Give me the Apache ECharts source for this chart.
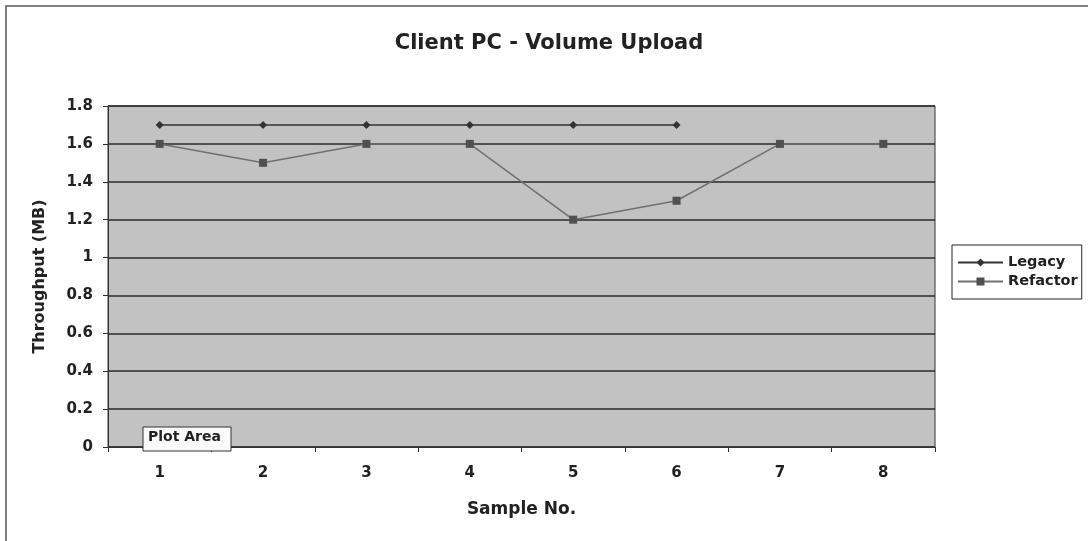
<!DOCTYPE html>
<html>
<head>
<meta charset="utf-8">
<script src="https://cdn.jsdelivr.net/npm/echarts@6/dist/echarts.min.js"></script>
<style>html,body{margin:0;padding:0;background:#fff}#c{width:1088px;height:541px}</style>
</head>
<body>
<div id="c"></div>
<script>
var categories = ['1','2','3','4','5','6','7','8'];
var legacy = [1.7, 1.7, 1.7, 1.7, 1.7, 1.7, null, null];
var refactor = [1.6, 1.5, 1.6, 1.6, 1.2, 1.3, 1.6, 1.6];
var yTicks = ['0','0.2','0.4','0.6','0.8','1','1.2','1.4','1.6','1.8'];

var FONT = '"DejaVu Sans", sans-serif';
var chart = echarts.init(document.getElementById('c'));
chart.setOption({
  animation: false,
  backgroundColor: '#ffffff',
  title: {
    text: 'Client PC - Volume Upload',
    left: 544, top: 28, textAlign: 'center',
    textStyle: { fontFamily: FONT, fontWeight: 'bold', fontSize: 21, color: '#222' }
  },
  grid: {
    left: 108, right: 153, top: 106, bottom: 94,
    show: true, backgroundColor: '#c2c2c2', borderColor: '#333', borderWidth: 1
  },
  legend: {
    orient: 'vertical', left: 952, top: 245,
    data: ['Legacy', 'Refactor'],
    borderColor: '#222', borderWidth: 1, padding: [10, 4, 10, 5],
    itemGap: 4, itemWidth: 45, itemHeight: 10,
    textStyle: { fontFamily: FONT, fontWeight: 'bold', fontSize: 14.5, color: '#222' }
  },
  xAxis: {
    type: 'category', data: categories, boundaryGap: true,
    name: 'Sample No.', nameLocation: 'middle', nameGap: 54,
    nameTextStyle: { fontFamily: FONT, fontWeight: 'bold', fontSize: 17, color: '#222' },
    axisLine: { lineStyle: { color: '#333' } },
    axisTick: { show: true, length: 5, lineStyle: { color: '#333' } },
    axisLabel: { fontFamily: FONT, fontWeight: 'bold', fontSize: 15, color: '#222', margin: 19 },
    splitLine: { show: false }
  },
  yAxis: {
    type: 'value', min: 0, max: 1.8, interval: 0.2,
    name: 'Throughput (MB)', nameLocation: 'middle', nameGap: 60, nameRotate: 90,
    nameTextStyle: { fontFamily: FONT, fontWeight: 'bold', fontSize: 16, color: '#222' },
    axisLine: { show: true, lineStyle: { color: '#333' } },
    axisTick: { show: true, length: 5, lineStyle: { color: '#333' } },
    axisLabel: {
      fontFamily: FONT, fontWeight: 'bold', fontSize: 15, color: '#222', margin: 15,
      formatter: function (v) { return yTicks[Math.round(v / 0.2)]; }
    },
    splitLine: { show: true, lineStyle: { color: '#2a2a2a', width: 1.5 } }
  },
  series: [
    {
      name: 'Legacy', type: 'line', data: legacy,
      symbol: 'diamond', symbolSize: 8, connectNulls: false,
      lineStyle: { color: '#333', width: 1.5 },
      itemStyle: { color: '#333' }
    },
    {
      name: 'Refactor', type: 'line', data: refactor,
      symbol: 'rect', symbolSize: 8,
      lineStyle: { color: '#707070', width: 1.5 },
      itemStyle: { color: '#505050' }
    }
  ],
  graphic: [
    { type: 'rect', shape: { x: 6, y: 6, width: 1100, height: 560 },
      style: { fill: 'none', stroke: '#555', lineWidth: 1.5 }, silent: true },
    { type: 'rect', shape: { x: 143, y: 427, width: 88, height: 24 },
      style: { fill: '#fafafa', stroke: '#333', lineWidth: 1 }, z: 10 },
    { type: 'text', x: 148, y: 430,
      style: { text: 'Plot Area', fontFamily: FONT, fontWeight: 'bold', fontSize: 14, fill: '#222' }, z: 11 }
  ]
});
</script>
</body>
</html>
